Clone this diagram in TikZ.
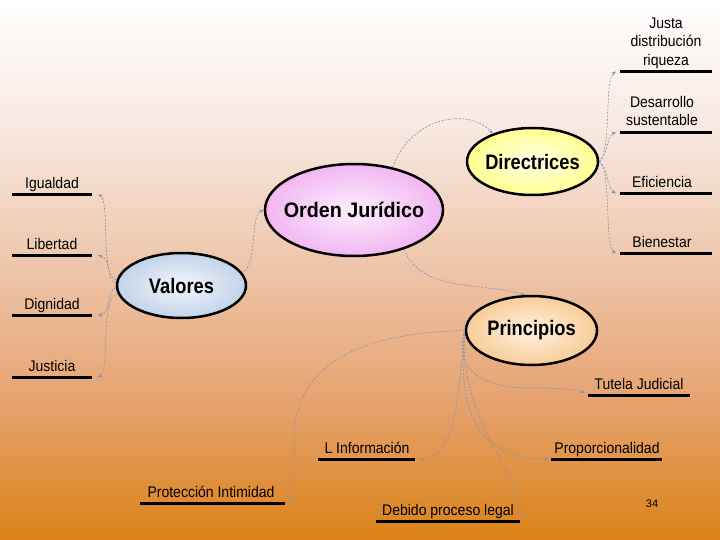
\documentclass[tikz,border=0pt]{standalone}
\usepackage{fontspec}
\setmainfont{Liberation Sans}
\newfontfamily\leaffont[FakeStretch=0.91]{Liberation Sans}
\newfontfamily\titlefont[FakeStretch=0.87]{Liberation Sans}
\newfontfamily\ordfont[FakeStretch=0.94]{Liberation Sans}
\usetikzlibrary{arrows.meta,shapes.geometric}
\definecolor{bg0}{HTML}{FFFFFF}
\definecolor{bg1}{HTML}{F8E8E0}
\definecolor{bg2}{HTML}{EEC4A8}
\definecolor{bg3}{HTML}{E6A370}
\definecolor{bg4}{HTML}{DB8217}
\definecolor{conncol}{HTML}{7F93B5}
\definecolor{ordout}{HTML}{F2B6F2}
\definecolor{ordin}{HTML}{FDF0FD}
\definecolor{dirout}{HTML}{FFFF90}
\definecolor{dirin}{HTML}{FFFFE6}
\definecolor{valout}{HTML}{C2D3EA}
\definecolor{valin}{HTML}{F4F7FB}
\definecolor{prout}{HTML}{F8CD98}
\definecolor{prin}{HTML}{FFF2E0}
\begin{document}
\begin{tikzpicture}[x=1pt,y=-1pt,
  ell/.style={ellipse, draw=black, line width=2.5pt, inner sep=0pt,
    font=\titlefont\bfseries\fontsize{21}{23}\selectfont},
  leaf/.style={inner sep=0pt, anchor=base, font=\leaffont\fontsize{15.4}{17}\selectfont},
  mleaf/.style={inner sep=0pt, anchor=north, align=center},
  uline/.style={line width=2.8pt, black},
  conn/.style={draw=conncol, line width=0.6pt, dash pattern=on 2pt off 1.5pt,
    -{Stealth[length=4.5pt,width=3.5pt]}}
]
\useasboundingbox (0,0) rectangle (720,540);
\shade[top color=bg0, bottom color=bg1] (0,0) rectangle (720,130.5);
\shade[top color=bg1, bottom color=bg2] (0,130) rectangle (720,270.5);
\shade[top color=bg2, bottom color=bg3] (0,270) rectangle (720,400.5);
\shade[top color=bg3, bottom color=bg4] (0,400) rectangle (720,540);

% main ellipses
\node[ell, font=\ordfont\bfseries\fontsize{21}{23}\selectfont, minimum width=178pt, minimum height=92pt, inner color=ordin, outer color=ordout] (O) at (354,210) {\makebox[0pt]{Orden Jurídico}};
\node[ell, minimum width=131pt, minimum height=67pt, inner color=dirin, outer color=dirout] (D) at (532.5,161.5) {\makebox[0pt]{Directrices}};
\node[ell, minimum width=129pt, minimum height=65pt, inner color=valin, outer color=valout] (V) at (181.5,285.5) {\makebox[0pt]{Valores}};
\node[ell, minimum width=131pt, minimum height=69pt, inner color=prin, outer color=prout] (P) at (531.5,330.5) {\makebox[0pt]{Principios}};

% left leaves (Valores)
\node[leaf] (ig) at (52,188.5) {Igualdad};
\node[leaf] (li) at (52,249.5) {Libertad};
\node[leaf] (di) at (52,309.5) {Dignidad};
\node[leaf] (ju) at (52,371.5) {Justicia};
\foreach \n/\y in {ig/194.5, li/255.5, di/315.5, ju/377.5}{
  \coordinate (\n L) at (12,\y);
  \coordinate (\n R) at (92,\y);
  \coordinate (\n A) at (98,\y);
  \draw[uline] (\n L) -- (\n R);
}

% right leaves (Directrices)
\node[mleaf, font=\leaffont\fontsize{15.4}{18.5}\selectfont] (js) at (666,17.5) {Justa\\distribución\\riqueza};
\node[mleaf, font=\leaffont\fontsize{15.4}{17.5}\selectfont] (de) at (662,96.5) {Desarrollo\\sustentable};
\node[leaf] (ef) at (662,187.5) {Eficiencia};
\node[leaf] (bi) at (662,247.5) {Bienestar};
\foreach \n/\y in {js/71.5, de/132.5, ef/193.5, bi/253.5}{
  \coordinate (\n L) at (620,\y);
  \coordinate (\n R) at (712,\y);
  \coordinate (\n A) at (616,\y);
  \draw[uline] (\n L) -- (\n R);
}

% Principios leaves
\node[leaf] (tu) at (639,389.5) {Tutela Judicial};
\node[leaf] (pr) at (607,453.5) {Proporcionalidad};
\node[leaf] (lin) at (367,453.5) {L Información};
\node[leaf] (pt) at (211,497.5) {Protección Intimidad};
\node[leaf] (db) at (448,515.5) {Debido proceso legal};
\coordinate (tuL) at (588,395.5); \coordinate (tuR) at (690,395.5);
\coordinate (prL) at (551,459.5); \coordinate (prR) at (662,459.5);
\coordinate (linL) at (318,459.5); \coordinate (linR) at (415,459.5);
\coordinate (ptL) at (140,503.5); \coordinate (ptR) at (285,503.5);
\coordinate (dbL) at (376,521.5); \coordinate (dbR) at (520,521.5);
\foreach \n in {tu,pr,lin,pt,db}{ \draw[uline] (\n L) -- (\n R); }
\coordinate (tuA) at (585,393);
\coordinate (prA) at (549,459);
\coordinate (linA) at (419,459);
\coordinate (ptA) at (288,502);
\coordinate (dbA) at (522,519);

\node[font=\fontsize{11}{13}\selectfont] (pg) at (652,504) {34};

% connectors
\draw[conn] (V.12) .. controls (258,265) and (250,215) .. (O.west);
\draw[conn] (O.48) .. controls (412,115) and (470,108) .. (D.145);
\draw[conn] (O.-38) .. controls (420,292) and (480,282) .. (P.100);

\draw[conn] (V.175) .. controls (100,280) and (110,200) .. (igA);
\draw[conn] (V.178) .. controls (106,282) and (112,258) .. (liA);
\draw[conn] (V.182) .. controls (106,290) and (112,312) .. (diA);
\draw[conn] (V.188) .. controls (100,292) and (110,370) .. (juA);

\draw[conn] (D.east) .. controls (612,150) and (604,80) .. (jsA);
\draw[conn] (D.east) .. controls (608,155) and (607,135) .. (deA);
\draw[conn] (D.east) .. controls (608,168) and (607,188) .. (efA);
\draw[conn] (D.east) .. controls (612,172) and (604,245) .. (biA);

\draw[conn] (P.west) .. controls (455,360) and (470,388) .. (530,388) .. controls (565,388) and (578,390) .. (tuA);
\draw[conn] (P.west) .. controls (458,400) and (470,459) .. (prA);
\draw[conn] (P.west) .. controls (458,400) and (455,459) .. (linA);
\draw[conn] (P.west) .. controls (458,420) and (520,470) .. (dbA);
\draw[conn] (P.west) .. controls (350,333) and (294,370) .. (294,440) .. controls (294,490) and (293,500) .. (ptA);
\end{tikzpicture}
\end{document}
